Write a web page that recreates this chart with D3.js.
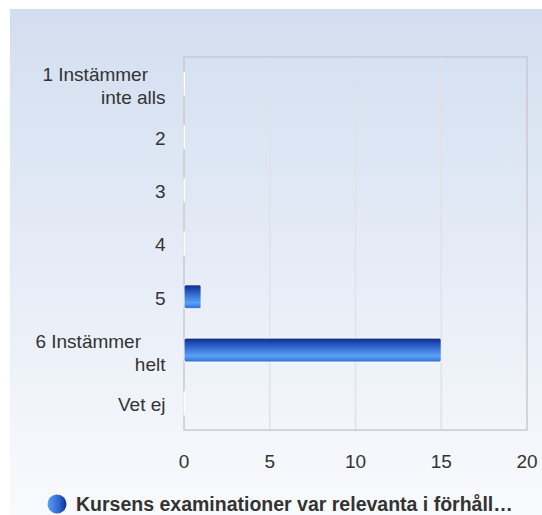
<!DOCTYPE html>
<html>
<head>
<meta charset="utf-8">
<script src="https://cdn.jsdelivr.net/npm/d3@7"></script>
<style>
  body { margin: 0; background: #fff; }
  text { font-family: "Liberation Sans", Arial, sans-serif; }
</style>
</head>
<body>
<div id="chart"></div>
<script>
var categories = ["1 Instämmer\ninte alls", "2", "3", "4", "5", "6 Instämmer\nhelt", "Vet ej"]
var values = [0, 0, 0, 0, 1, 15, 0]
var xTicks = [0, 5, 10, 15, 20]
var seriesName = "Kursens examinationer var relevanta i förhåll…"

var W = 542, H = 515
var margin = { top: 57, right: 15, bottom: 85, left: 184 },
  width = W - margin.left - margin.right,
  height = H - margin.top - margin.bottom;

// the first line of a wrapped label sits a bit left of the second one
var firstLineShift = { "1 Instämmer\ninte alls": 17.5, "6 Instämmer\nhelt": 24.5 }

var svg = d3.select("#chart")
  .append("svg")
  .attr("width", W)
  .attr("height", H)

var defs = svg.append("defs")
var bg = defs.append("linearGradient")
  .attr("id", "bg-grad")
  .attr("x1", 0).attr("y1", 0).attr("x2", 0).attr("y2", 1)
bg.append("stop").attr("offset", "0%").attr("stop-color", "#d2def0")
bg.append("stop").attr("offset", "100%").attr("stop-color", "#f9fafd")

var barGrad = defs.append("linearGradient")
  .attr("id", "bar-grad")
  .attr("x1", 0).attr("y1", 0).attr("x2", 0).attr("y2", 1)
barGrad.append("stop").attr("offset", "0%").attr("stop-color", "#0b2a8a")
barGrad.append("stop").attr("offset", "35%").attr("stop-color", "#2f63c8")
barGrad.append("stop").attr("offset", "75%").attr("stop-color", "#5ba2f7")
barGrad.append("stop").attr("offset", "100%").attr("stop-color", "#2b6ad4")

var legGrad = defs.append("linearGradient")
  .attr("id", "leg-grad")
  .attr("x1", 0).attr("y1", 0).attr("x2", 1).attr("y2", 0)
legGrad.append("stop").attr("offset", "0%").attr("stop-color", "#5a9ef5")
legGrad.append("stop").attr("offset", "60%").attr("stop-color", "#2d66d0")
legGrad.append("stop").attr("offset", "100%").attr("stop-color", "#0c2f8f")

// background panel
svg.append("rect")
  .attr("x", 10).attr("y", 9)
  .attr("width", W - 10).attr("height", H - 9)
  .attr("fill", "url(#bg-grad)")

var g = svg.append("g")
  .attr("transform", "translate(" + margin.left + "," + margin.top + ")");

var x = d3.scaleLinear()
  .domain([0, 20])
  .range([0, width])

var y = d3.scaleBand()
  .domain(categories)
  .range([0, height])
  .paddingInner(0.55)
  .paddingOuter(0.275)

// grid
g.selectAll("line.grid")
  .data(xTicks.slice(1, -1))
  .enter()
  .append("line")
  .attr("class", "grid")
  .attr("x1", function (d) { return x(d) }).attr("x2", function (d) { return x(d) })
  .attr("y1", 0).attr("y2", height)
  .attr("stroke", "#dfe2e8")
  .attr("stroke-width", 1.5)

g.append("rect")
  .attr("x", 0).attr("y", 0)
  .attr("width", width).attr("height", height)
  .attr("fill", "none")
  .attr("stroke", "#c8cacf")
  .attr("stroke-width", 1.5)

// bars
g.selectAll("rect.bar")
  .data(values)
  .enter()
  .append("rect")
  .attr("class", "bar")
  .attr("x", x(0))
  .attr("y", function (d, i) { return y(categories[i]) })
  .attr("width", function (d) { return Math.max(x(d) - x(0), 0.5) })
  .attr("height", y.bandwidth())
  .attr("rx", 2)
  .attr("fill", function (d) { return d > 0 ? "url(#bar-grad)" : "#fff" })
  .attr("stroke", "#fff")
  .attr("stroke-width", 1)

// x axis labels
g.selectAll("text.xtick")
  .data(xTicks)
  .enter()
  .append("text")
  .attr("class", "xtick")
  .attr("x", function (d) { return x(d) })
  .attr("y", height + 38)
  .attr("text-anchor", "middle")
  .attr("font-size", 19)
  .attr("fill", "#333")
  .text(function (d) { return d })

// y axis labels
g.selectAll("text.ytick")
  .data(categories)
  .enter()
  .append("text")
  .attr("class", "ytick")
  .attr("y", function (d) { return y(d) + y.bandwidth() / 2 })
  .attr("text-anchor", "end")
  .attr("font-size", 19)
  .attr("fill", "#333")
  .each(function (d) {
    var lines = d.split("\n")
    var t = d3.select(this)
    lines.forEach(function (l, k) {
      var shift = (k == 0 && lines.length > 1) ? firstLineShift[d] || 0 : 0
      t.append("tspan")
        .attr("x", -18.5 - shift)
        .attr("dy", k == 0 ? (0.42 - (lines.length - 1) * 0.55) + "em" : "1.22em")
        .text(l)
    })
  })

// legend
svg.append("circle")
  .attr("cx", 57).attr("cy", 504)
  .attr("r", 9.5)
  .attr("fill", "url(#leg-grad)")

svg.append("text")
  .attr("x", 76).attr("y", 511)
  .attr("font-size", 19.5)
  .attr("font-weight", "bold")
  .attr("fill", "#333")
  .text(seriesName)
</script>
</body>
</html>
